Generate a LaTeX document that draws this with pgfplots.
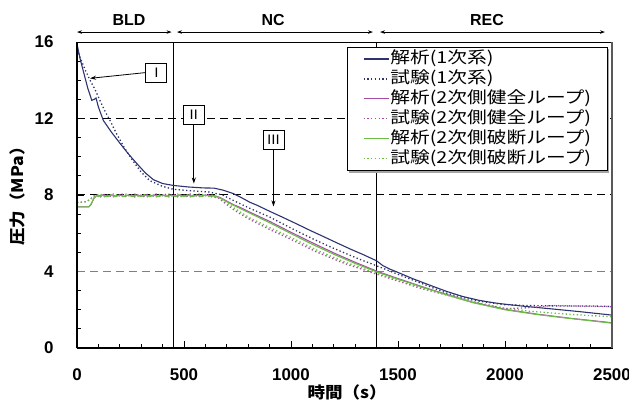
\documentclass[border=0pt]{standalone}
\usepackage{fontspec}
\setmainfont{Liberation Sans}
\newfontfamily\jp[FakeStretch=1.1]{Noto Sans CJK JP}
\newfontfamily\jpw[FakeStretch=1.2]{Noto Sans CJK JP}
\usepackage{pgfplots}
\pgfplotsset{compat=1.18}
\usetikzlibrary{arrows.meta}
\definecolor{navy}{HTML}{2E3270}
\definecolor{mag}{HTML}{A64CA6}
\definecolor{grn}{HTML}{6CBD45}
\begin{document}
\begin{tikzpicture}
\path[use as bounding box] (-77bp,-57bp) rectangle (552bp,348bp);
\begin{axis}[
  at={(0,0)}, anchor=south west, scale only axis,
  width=535bp, height=306bp,
  xmin=0, xmax=2500, ymin=0, ymax=16,
  xtick={0,500,...,2500}, ytick={0,4,...,16},
  minor x tick num=4, minor y tick num=3,
  tick align=inside, xtick pos=bottom, ytick pos=left,
  major tick length=7bp, minor tick length=4bp,
  tick style={black, line width=0.8bp},
  axis line style={line width=0.9bp},
  ticklabel style={font=\fontsize{17}{17}\selectfont\bfseries},
  xticklabel style={yshift=-17bp},
  yticklabel style={xshift=-20bp},
  /pgf/number format/assume math mode=true,
  /pgf/number format/set thousands separator={},
  xlabel={\jp\bfseries 時間（s）},
  ylabel={\jp\bfseries 圧力（MPa）},
  label style={font=\fontsize{16}{16}\selectfont},
  xlabel style={at={(axis description cs:0.505,-0.144)}, anchor=center},
  ylabel style={at={(axis description cs:-0.112,0.51)}, anchor=center},
  clip=false,
  legend style={at={(rel axis cs:0.505,0.984)}, anchor=north west,
    draw=black, fill=white, line width=0.8bp,
    font=\jpw\fontsize{16.5}{17}\selectfont,
    nodes={inner sep=1pt, text height=12.5pt, text depth=3pt},
    row sep=2.5pt, inner xsep=15.5bp, inner ysep=3bp},
  legend cell align=left,
  legend image code/.code={\draw[#1] (0bp,0bp) -- (25bp,0bp);},
]
% reference lines
\draw[black, line width=1bp, dash pattern=on 8bp off 5bp] (axis cs:0,12) -- (axis cs:2500,12);
\draw[black, line width=1bp, dash pattern=on 8bp off 5bp] (axis cs:0,8) -- (axis cs:2500,8);
\draw[gray, line width=1.2bp, dash pattern=on 8bp off 5bp] (axis cs:0,4) -- (axis cs:2500,4);
\draw[black, line width=0.9bp] (axis cs:450,0) -- (axis cs:450,16);
\draw[black, line width=0.9bp] (axis cs:1400,0) -- (axis cs:1400,16);
% legend shadow
\fill[gray!70] (axis cs:1271,15.63) rectangle (axis cs:2486,9.15);

\addplot[navy, line width=1.1bp] coordinates {
(0,15.9)(15,15.1)(29,14.5)(50,13.6)(69,12.95)(80,13.0)(89,13.07)(100,12.6)(123,11.9)(160,11.3)(201,10.7)(240,10.15)(279,9.65)(320,9.15)(357,8.8)(400,8.6)(450,8.5)(520,8.42)(590,8.37)(640,8.36)(684,8.25)(729,8.08)(762,7.9)(808,7.62)(840,7.47)(900,7.15)(964,6.82)(1030,6.47)(1089,6.15)(1151,5.83)(1210,5.52)(1276,5.18)(1340,4.87)(1400,4.56)(1430,4.3)(1463,4.12)(1494,3.98)(1570,3.62)(1650,3.28)(1727,2.96)(1800,2.7)(1880,2.49)(1950,2.36)(1992,2.3)(2100,2.17)(2195,2.07)(2350,1.9)(2500,1.72)};
\addlegendentry{解析(1次系)}
\addplot[navy, line width=1.3bp, dash pattern=on 1.3bp off 2.4bp] coordinates {
(0,15.6)(14,15.2)(40,14.5)(61,14.0)(85,13.5)(107,12.95)(130,12.4)(154,11.9)(185,11.2)(220,10.5)(260,9.8)(300,9.2)(340,8.75)(400,8.45)(450,8.3)(500,8.25)(560,8.2)(620,8.15)(680,8.0)(730,7.72)(808,7.3)(900,6.85)(964,6.48)(1030,6.1)(1100,5.72)(1175,5.33)(1250,4.97)(1325,4.62)(1400,4.3)(1494,3.88)(1600,3.42)(1727,2.87)(1850,2.5)(1992,2.27)(2100,2.22)(2250,2.2)(2400,2.2)(2500,2.17)};
\addlegendentry{試験(1次系)}
\addplot[mag, line width=1.1bp] coordinates {
(0,7.38)(55,7.38)(65,7.5)(80,7.85)(92,7.98)(100,7.94)(120,8.0)(140,7.93)(160,8.0)(180,7.94)(200,8.0)(220,7.93)(240,8.0)(260,7.94)(280,8.0)(300,7.93)(320,8.0)(340,7.94)(360,8.0)(380,7.93)(400,8.0)(420,7.94)(440,8.0)(460,7.93)(480,8.0)(500,7.94)(520,8.0)(540,7.93)(560,8.0)(580,7.94)(600,8.0)(620,7.96)(640,7.96)(668,7.87)(700,7.68)(730,7.5)(762,7.35)(808,7.1)(900,6.62)(1000,6.05)(1100,5.5)(1200,4.97)(1300,4.48)(1400,4.02)(1500,3.63)(1650,3.07)(1727,2.8)(1850,2.39)(2000,2.02)(2150,1.77)(2300,1.56)(2500,1.32)};
\addlegendentry{解析(2次側健全ループ)}
\addplot[mag, line width=1.3bp, dash pattern=on 1.3bp off 2.4bp] coordinates {
(0,7.6)(40,7.65)(60,7.75)(80,7.95)(95,8.0)(110,7.9)(130,8.05)(150,7.9)(170,8.05)(190,7.9)(210,8.05)(230,7.9)(250,8.05)(270,7.9)(290,8.05)(310,7.9)(330,8.05)(350,7.9)(370,8.05)(390,7.9)(410,8.05)(430,7.9)(450,8.05)(470,7.9)(490,8.05)(510,7.9)(530,8.05)(550,7.9)(570,8.05)(590,7.9)(610,8.05)(630,7.9)(660,7.85)(700,7.5)(730,7.25)(762,7.02)(808,6.72)(900,6.2)(1000,5.68)(1120,5.02)(1250,4.42)(1400,3.86)(1500,3.5)(1600,3.14)(1727,2.77)(1850,2.4)(2000,2.06)(2100,2.1)(2226,2.22)(2350,2.19)(2500,2.16)};
\addlegendentry{試験(2次側健全ループ)}
\addplot[grn, line width=1.1bp] coordinates {
(0,7.38)(55,7.38)(65,7.5)(80,7.85)(92,7.98)(100,7.92)(120,7.99)(140,7.92)(160,7.99)(180,7.92)(200,7.99)(220,7.92)(240,7.99)(260,7.92)(280,7.99)(300,7.92)(320,7.99)(340,7.92)(360,7.99)(380,7.92)(400,7.99)(420,7.92)(440,7.99)(460,7.92)(480,7.99)(500,7.92)(520,7.99)(540,7.92)(560,7.99)(580,7.92)(600,7.99)(620,7.95)(640,7.94)(668,7.85)(700,7.65)(730,7.47)(762,7.3)(808,7.05)(900,6.55)(1000,5.98)(1100,5.42)(1200,4.9)(1300,4.42)(1400,3.98)(1500,3.6)(1650,3.05)(1727,2.78)(1850,2.37)(2000,2.0)(2150,1.75)(2300,1.55)(2500,1.3)};
\addlegendentry{解析(2次側破断ループ)}
\addplot[grn, line width=1.3bp, dash pattern=on 1.3bp off 2.4bp] coordinates {
(0,7.6)(40,7.65)(60,7.75)(80,7.95)(95,8.0)(110,8.05)(130,7.9)(150,8.05)(170,7.9)(190,8.05)(210,7.9)(230,8.05)(250,7.9)(270,8.05)(290,7.9)(310,8.05)(330,7.9)(350,8.05)(370,7.9)(390,8.05)(410,7.9)(430,8.05)(450,7.9)(470,8.05)(490,7.9)(510,8.05)(530,7.9)(550,8.05)(570,7.9)(590,8.05)(610,7.9)(630,8.0)(660,7.9)(700,7.6)(730,7.35)(762,7.12)(808,6.8)(900,6.3)(1000,5.78)(1120,5.12)(1250,4.5)(1400,3.92)(1500,3.55)(1600,3.18)(1727,2.8)(1850,2.42)(2000,2.08)(2117,1.92)(2300,1.76)(2500,1.63)};
\addlegendentry{試験(2次側破断ループ)}

% frame emphasis
\draw[black, line width=2bp] (axis cs:0,0) -- (axis cs:2500,0);
\draw[black, line width=1.3bp] (axis cs:0,0) -- (axis cs:0,16);
\draw[gray!70!black, line width=1.5bp] (axis cs:2500,0) -- (axis cs:2500,16);

% phase arrows
\draw[{Stealth[length=5bp,width=3.5bp]}-{Stealth[length=5bp,width=3.5bp]}, line width=0.8bp] (axis cs:0,16.52) -- (axis cs:442,16.52);
\draw[{Stealth[length=5bp,width=3.5bp]}-{Stealth[length=5bp,width=3.5bp]}, line width=0.8bp] (axis cs:467,16.52) -- (axis cs:1383,16.52);
\draw[{Stealth[length=5bp,width=3.5bp]}-{Stealth[length=5bp,width=3.5bp]}, line width=0.8bp] (axis cs:1416,16.52) -- (axis cs:2467,16.52);
\node[font=\fontsize{16}{16}\selectfont\bfseries] at (axis cs:243,17.15) {BLD};
\node[font=\fontsize{16}{16}\selectfont\bfseries] at (axis cs:916,17.15) {NC};
\node[font=\fontsize{16}{16}\selectfont\bfseries] at (axis cs:1916,17.15) {REC};

% annotations
\node[draw=black, fill=white, line width=0.8bp, minimum width=21bp, minimum height=19bp, inner sep=1bp, font=\jp\fontsize{13}{13}\selectfont] (n1) at (axis cs:371,14.4) {Ⅰ};
\draw[-{Stealth[length=6bp,width=4bp]}, line width=0.8bp] (n1.west) -- (axis cs:61,14.1);
\node[draw=black, fill=white, line width=0.8bp, minimum width=21bp, minimum height=19bp, inner sep=1bp, font=\jp\fontsize{13}{13}\selectfont] (n2) at (axis cs:546,12.2) {Ⅱ};
\draw[-{Stealth[length=6bp,width=4bp]}, line width=0.8bp] (n2.south) -- (axis cs:546,8.6);
\node[draw=black, fill=white, line width=0.8bp, minimum width=21bp, minimum height=19bp, inner sep=1bp, font=\jp\fontsize{13}{13}\selectfont] (n3) at (axis cs:918,10.9) {Ⅲ};
\draw[-{Stealth[length=6bp,width=4bp]}, line width=0.8bp] (n3.south) -- (axis cs:918,7.4);
\end{axis}
\end{tikzpicture}
\end{document}
